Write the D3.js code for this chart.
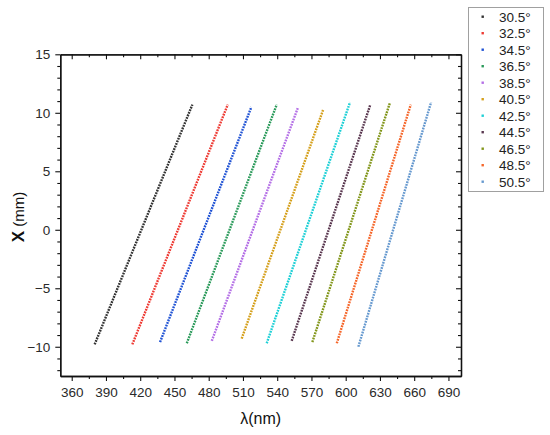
<!DOCTYPE html>
<html>
<head>
<meta charset="utf-8">
<script src="https://cdn.jsdelivr.net/npm/d3@7"></script>
<style>
    body { margin: 0; background: #fff; }
    svg { display: block; font-family: "Liberation Sans", Arial, sans-serif; }
</style>
</head>
<body>
<div class="container"></div>
<script>
const WIDTH = 550;
const HEIGHT = 435;

const PLOT_LEFT = 60.3;
const PLOT_RIGHT = 461;
const PLOT_TOP = 54.3;
const PLOT_BOTTOM = 376;

// angles (legend labels)
var angles = ['30.5°', '32.5°', '34.5°', '36.5°', '38.5°', '40.5°', '42.5°', '44.5°', '46.5°', '48.5°', '50.5°'];

// wavelength / position at the lower and upper end of each measured line
var lambdaBottom = [380.1, 413.1, 437.4, 460.8, 482.7, 508.9, 530.8, 552.7, 570.8, 592.2, 611.1];
var posBottom    = [-9.8, -9.8, -9.6, -9.7, -9.5, -9.3, -9.7, -9.5, -9.6, -9.7, -10.0];
var lambdaTop    = [465.7, 496.7, 517.4, 539.6, 558.0, 580.4, 603.8, 621.6, 638.9, 657.0, 674.8];
var posTop       = [10.7, 10.7, 10.5, 10.7, 10.4, 10.3, 10.9, 10.7, 10.9, 10.7, 10.9];

var xTicks = [360, 390, 420, 450, 480, 510, 540, 570, 600, 630, 660, 690];
var yTicks = [-10, -5, 0, 5, 10, 15];

var colors = ['#333333', '#ee3b34', '#1f52d4', '#2a9a5a', '#b46fe6', '#d5a01c',
              '#1fd0d6', '#5a3850', '#82961b', '#f5662a', '#6699cf'];

var xScale, yScale, svg;

var translate = function(x, y){
    return "translate(" + x + "," + y + ")";
};

var drawAxes = function(){
    xScale = d3.scaleLinear().domain([350, 701]).range([PLOT_LEFT, PLOT_RIGHT]);
    yScale = d3.scaleLinear().domain([-12.5, 15]).range([PLOT_BOTTOM, PLOT_TOP]);

    var xMinor = d3.range(375, 701, 30);
    var yMinor = d3.range(-12, 15, 1).filter(function(d){ return d % 5 !== 0; });

    var styleAxis = function(g){
        g.selectAll('.domain').attr('stroke', '#111').attr('stroke-width', 1.3);
        g.selectAll('.tick line').attr('stroke', '#111').attr('stroke-width', 1.1);
        g.selectAll('.tick text').attr('fill', '#2a2a2a').style('font-size', '13.5px');
    };

    // bottom
    svg.append('g').attr('transform', translate(0, PLOT_BOTTOM))
        .call(d3.axisBottom(xScale).tickValues(xTicks).tickSize(5).tickSizeOuter(0).tickPadding(6))
        .call(styleAxis);
    svg.append('g').attr('transform', translate(0, PLOT_BOTTOM))
        .call(d3.axisBottom(xScale).tickValues(xMinor).tickSize(3).tickFormat('').tickSizeOuter(0))
        .call(styleAxis);
    // top (inward)
    svg.append('g').attr('transform', translate(0, PLOT_TOP))
        .call(d3.axisBottom(xScale).tickValues(xTicks).tickSize(5).tickFormat('').tickSizeOuter(0))
        .call(styleAxis);
    svg.append('g').attr('transform', translate(0, PLOT_TOP))
        .call(d3.axisBottom(xScale).tickValues(xMinor).tickSize(3).tickFormat('').tickSizeOuter(0))
        .call(styleAxis);
    // left
    svg.append('g').attr('transform', translate(PLOT_LEFT, 0))
        .call(d3.axisLeft(yScale).tickValues(yTicks).tickSize(5).tickSizeOuter(0).tickPadding(5)
            .tickFormat(function(d){ return d < 0 ? '\u2212' + Math.abs(d) : d; }))
        .call(styleAxis);
    svg.append('g').attr('transform', translate(PLOT_LEFT, 0))
        .call(d3.axisLeft(yScale).tickValues(yMinor).tickSize(3).tickFormat('').tickSizeOuter(0))
        .call(styleAxis);
    // right (inward)
    svg.append('g').attr('transform', translate(PLOT_RIGHT, 0))
        .call(d3.axisLeft(yScale).tickValues(yTicks).tickSize(5).tickFormat('').tickSizeOuter(0))
        .call(styleAxis);
    svg.append('g').attr('transform', translate(PLOT_RIGHT, 0))
        .call(d3.axisLeft(yScale).tickValues(yMinor).tickSize(3).tickFormat('').tickSizeOuter(0))
        .call(styleAxis);

    // axis titles
    svg.append('text')
        .attr('x', (PLOT_LEFT + PLOT_RIGHT) / 2)
        .attr('y', 424)
        .attr('text-anchor', 'middle')
        .style('font-size', '16px')
        .attr('fill', '#111')
        .text('\u03bb(nm)');

    var yTitle = svg.append('text')
        .attr('transform', translate(24, 217) + ' rotate(-90)')
        .attr('text-anchor', 'middle')
        .attr('fill', '#111');
    yTitle.append('tspan').style('font-size', '17px').style('font-weight', 'bold').text('X');
    yTitle.append('tspan').style('font-size', '15px').text(' (mm)');
};

var drawSeries = function(){
    var line = d3.line()
        .x(function(d){ return xScale(d[0]); })
        .y(function(d){ return yScale(d[1]); });

    angles.forEach(function(a, i){
        var pts = [[lambdaBottom[i], posBottom[i]], [lambdaTop[i], posTop[i]]];
        svg.append('path')
            .attr('d', line(pts))
            .attr('fill', 'none')
            .attr('stroke', colors[i])
            .attr('stroke-width', 2.4)
            .attr('stroke-dasharray', '1.8,1');
    });
};

var drawLegend = function(){
    var lg = svg.append('g');
    lg.append('rect')
        .attr('x', 468.5).attr('y', 7.5)
        .attr('width', 75).attr('height', 184)
        .attr('fill', '#fff')
        .attr('stroke', '#a0a0a0')
        .attr('stroke-width', 1);

    var row = lg.selectAll('g.item').data(angles).enter().append('g')
        .attr('transform', function(d, i){ return translate(0, 16.7 + i * 16.5); });
    row.append('rect')
        .attr('x', 481.5).attr('y', -1.2)
        .attr('width', 2.4).attr('height', 2.4)
        .attr('fill', function(d, i){ return colors[i]; });
    row.append('text')
        .attr('x', 499).attr('y', 4.8)
        .style('font-size', '13.5px')
        .attr('fill', '#222')
        .text(function(d){ return d; });
};

var generateChart = function(){
    svg = d3.select('.container').append('svg')
        .attr('width', WIDTH)
        .attr('height', HEIGHT);
    drawAxes();
    drawSeries();
    drawLegend();
};

window.onload = generateChart;
</script>
</body>
</html>
